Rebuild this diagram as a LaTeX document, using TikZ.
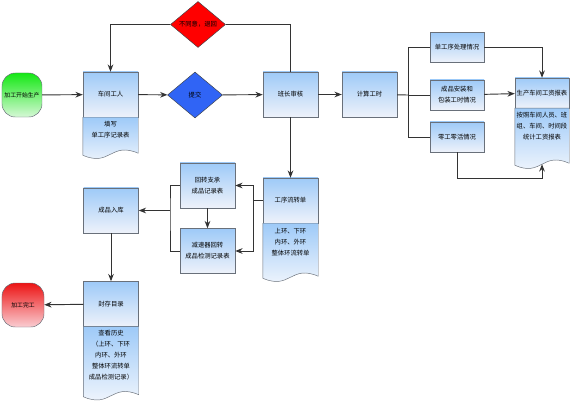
\documentclass[tikz,border=0pt]{standalone}
\usepackage{fontspec}
\setmainfont{Noto Sans CJK SC}
\usetikzlibrary{arrows.meta,positioning,shapes.geometric,calc}
\definecolor{boxtop}{RGB}{158,202,248}
\definecolor{boxbot}{RGB}{238,242,250}
\definecolor{edge}{RGB}{105,112,122}
\definecolor{gotop}{RGB}{20,232,20}
\definecolor{gobot}{RGB}{214,248,214}
\definecolor{endtop}{RGB}{236,20,20}
\definecolor{endbot}{RGB}{250,205,210}
\definecolor{askblue}{RGB}{48,100,245}

\begin{document}
\begin{tikzpicture}[
  x=0.03cm, y=-0.03cm,
  font=\fontsize{5.4}{9.4}\selectfont,
  box/.style={draw=edge,top color=boxtop,bottom color=boxbot,align=center,inner sep=1pt,minimum width=1.65cm,minimum height=1.35cm},
  small/.style={box,minimum width=1.62cm,minimum height=0.9cm},
  doc/.style={draw=edge,top color=boxtop,bottom color=boxbot!50!white},
  doctext/.style={align=center,inner sep=0pt,anchor=north},
  term/.style={draw=edge,rounded corners=0.4cm,minimum width=1.2cm,minimum height=1.32cm,inner sep=0.5pt,font=\fontsize{5}{7}\selectfont},
  choice/.style={diamond,draw=edge!60!black,aspect=1.2,minimum width=1.65cm,minimum height=1.38cm,inner sep=0pt},
  link/.style={draw=black!80,line width=0.8pt},
  arr/.style={link,-{Stealth[length=2.2mm,width=1.7mm]}}
]
\useasboundingbox[fill=white] (0,0) rectangle (573,401);

% top row
\node[term,top color=gotop,bottom color=gobot] (start) at (22,95) {加工开始生产};
\node[box] (worker) at (110.5,94.5) {车间工人};
\draw[doc] (worker.south west) -- ($(worker.south west)+(0,38)$)
  .. controls ($(worker.south)+(0,50)$) and ($(worker.south)+(0,24)$) .. ($(worker.south east)+(0,36)$)
  -- (worker.south east) -- cycle;
\node[doctext,below=3pt of worker] (fillnote) {填写\\单工序记录表};
\node[choice,fill=askblue] (submit) at (195,95) {提交};
\node[choice,fill=red] (reject) at (198,24.5) {不同意，退回};
\node[box] (leader) at (290.5,94.5) {班长审核};
\node[box] (calc) at (369.5,94.5) {计算工时};

% hours
\node[small] (single) at (457,47.5) {单工序处理情况};
\node[small] (assembly) at (457,95) {成品安装和\\包装工时情况};
\node[small] (misc) at (457,137) {零工零活情况};
\node[small] (report) at (542,93) {生产车间工资报表};
\draw[doc] (report.south west) -- ($(report.south west)+(0,57)$)
  .. controls ($(report.south)+(0,69)$) and ($(report.south)+(0,43)$) .. ($(report.south east)+(0,55)$)
  -- (report.south east) -- cycle;
\node[doctext,below=3pt of report] (reportnote) {按照车间人员、班\\组、车间、时间段\\统计工资报表};
\coordinate (reportend) at ($(report.south)+(0,56)$);
\coordinate (split) at (408,95);

% records
\node[box] (flow) at (290.5,200.5) {工序流转单};
\draw[doc] (flow.south west) -- ($(flow.south west)+(0,55)$)
  .. controls ($(flow.south)+(0,67)$) and ($(flow.south)+(0,41)$) .. ($(flow.south east)+(0,53)$)
  -- (flow.south east) -- cycle;
\node[doctext,below=4pt of flow] (flownote) {上环、下环\\内环、外环\\整体环流转单};
\node[box] (slew) at (207.5,185.5) {回转支承\\成品记录表};
\node[box] (reducer) at (207.5,251) {减速器回转\\成品检测记录表};
\coordinate (fork) at (253,200.5);
\coordinate (merge) at (170,210.5);
\node[box] (stock) at (111,210.5) {成品入库};
\node[box] (archive) at (111,304) {封存目录};
\draw[doc] (archive.south west) -- ($(archive.south west)+(0,70)$)
  .. controls ($(archive.south)+(0,82)$) and ($(archive.south)+(0,56)$) .. ($(archive.south east)+(0,68)$)
  -- (archive.south east) -- cycle;
\node[doctext,below=3pt of archive] (archivenote) {查看历史\\（上环、下环\\内环、外环\\整体环流转单\\成品检测记录）};
\node[term,top color=endtop,bottom color=endbot,minimum width=1.26cm] (finish) at (23,305) {加工完工};

% connectors
\draw[arr] (start) -- (worker);
\draw[arr] (worker) -- (submit);
\draw[arr] (submit) -- (leader);
\draw[link] (leader.north) |- (reject.east);
\draw[arr] (reject.west) -| (worker.north);
\draw[arr] (leader) -- (calc);
\draw[link] (calc) -- (split);
\draw[link] (split) |- (single.west);
\draw[link] (split) |- (misc.west);
\draw[link] (split) -- (assembly);
\draw[arr] (single.east) -| (report.north);
\draw[arr] (assembly) -- (report);
\draw[arr] (misc.south) -- ++(0,26) -| (reportend);
\draw[arr] (leader) -- (flow);
\draw[link] (flow.west) -- (fork);
\draw[arr] (fork) |- (slew.east);
\draw[arr] (fork) |- (reducer.east);
\draw[arr] (slew) -- (reducer);
\draw[link] (slew.west) -| (merge) |- (reducer.west);
\draw[arr] (merge) -- (stock.east);
\draw[arr] (stock) -- (archive);
\draw[arr] (archive) -- (finish);
\end{tikzpicture}
\end{document}
